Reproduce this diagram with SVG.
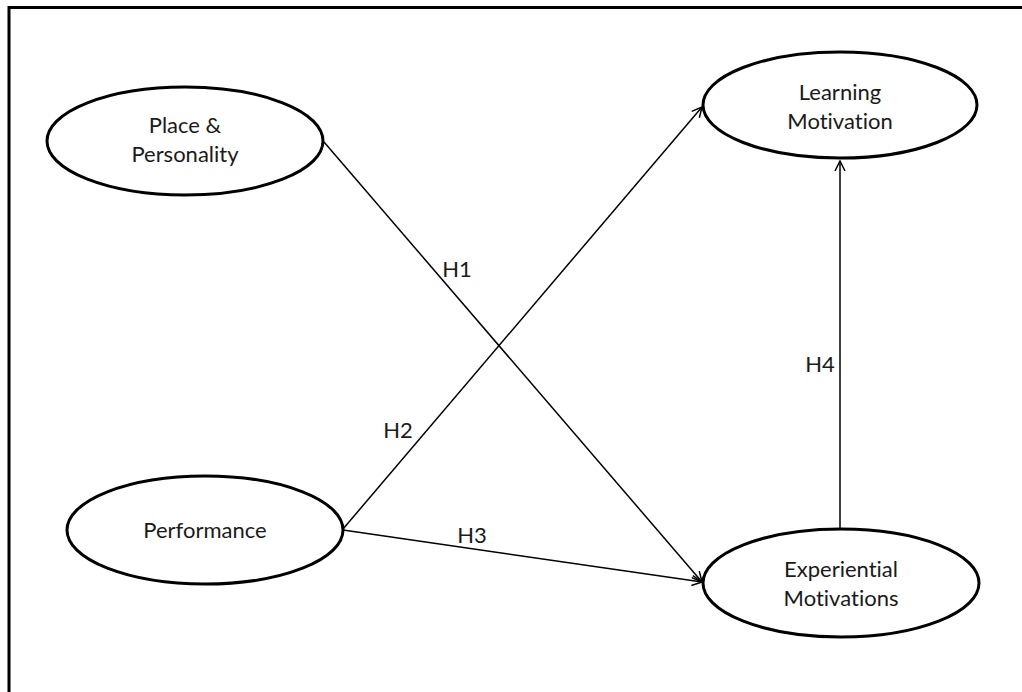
<svg xmlns="http://www.w3.org/2000/svg" width="1022" height="692" viewBox="0 0 1022 692">
<style>
.node ellipse{fill:#fff;stroke:#000;stroke-width:3}
.lbl{font-family:Lato,"Open Sans",sans-serif;font-size:22px;fill:#1a1a1a;text-anchor:middle;font-variant-ligatures:none;font-feature-settings:"liga" 0,"dlig" 0}
.edge{stroke:#000;stroke-width:1.5;fill:none;marker-end:url(#arr)}
</style>
<defs>
<marker id="arr" viewBox="0 0 12 12" refX="11" refY="6" markerWidth="12" markerHeight="12" markerUnits="userSpaceOnUse" orient="auto">
<path d="M1,1 L11,6 L1,11" fill="none" stroke="#000" stroke-width="1.5"/>
</marker>
</defs>
<rect width="1022" height="692" fill="#fff"/>
<path d="M9,700 L9,7.5 L1030,7.5" fill="none" stroke="#000" stroke-width="3"/>
<g id="connectors">
<line class="edge" x1="324" y1="142" x2="702" y2="582"/>
<line class="edge" x1="343" y1="529" x2="702" y2="107"/>
<line class="edge" x1="343" y1="530" x2="702" y2="582"/>
<line class="edge" x1="840" y1="529" x2="840" y2="161"/>
<text class="lbl" x="457" y="277">H1</text>
<text class="lbl" x="398" y="438">H2</text>
<text class="lbl" x="472" y="543">H3</text>
<text class="lbl" x="820" y="372">H4</text>
</g>
<g id="place" class="node">
<ellipse cx="185" cy="141" rx="138" ry="54"/>
<text class="lbl" x="185" y="133">Place &amp;</text>
<text class="lbl" x="185" y="162">Personality</text>
</g>
<g id="learning" class="node">
<ellipse cx="840" cy="105" rx="137" ry="53"/>
<text class="lbl" x="840" y="100">Learning</text>
<text class="lbl" x="840" y="129">Motivation</text>
</g>
<g id="performance" class="node">
<ellipse cx="205" cy="530" rx="138" ry="54"/>
<text class="lbl" x="205" y="538">Performance</text>
</g>
<g id="experiential" class="node">
<ellipse cx="841" cy="583" rx="138" ry="54"/>
<text class="lbl" x="841" y="577">Experiential</text>
<text class="lbl" x="841" y="606">Motivations</text>
</g>
</svg>
